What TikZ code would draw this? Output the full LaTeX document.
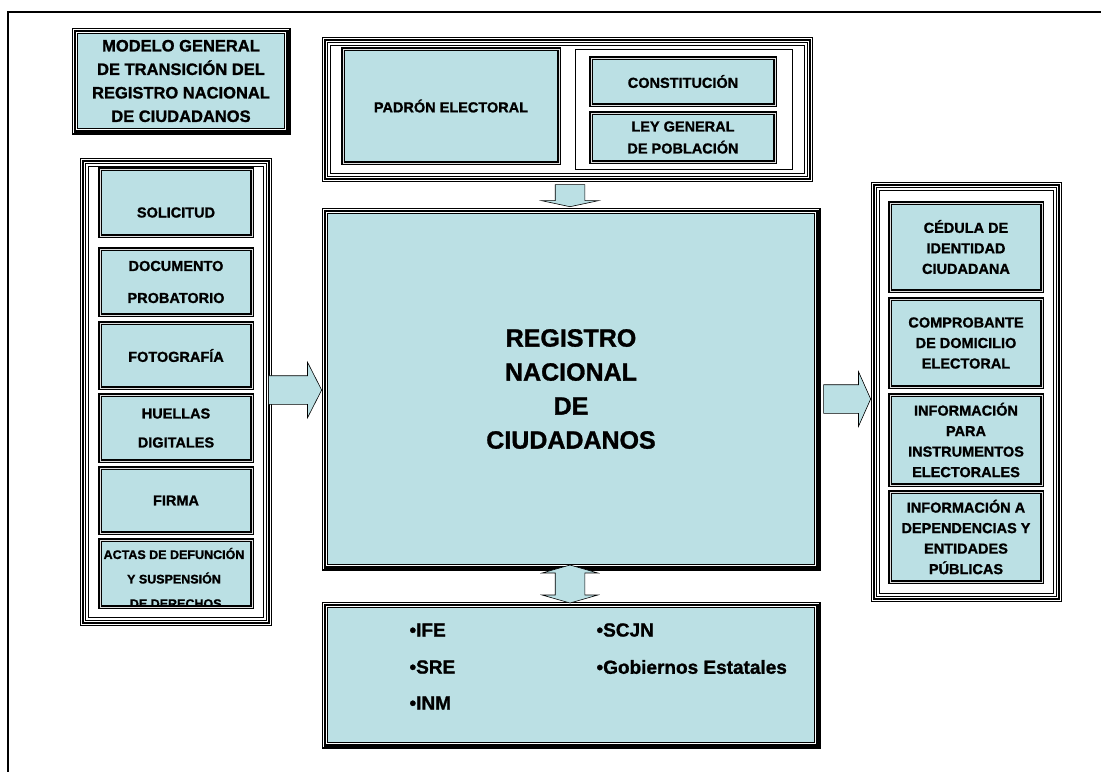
\documentclass[tikz,border=0pt]{standalone}
\usepackage{fontspec}
\setmainfont{Liberation Sans}[BoldFeatures={FakeBold=1.2}]
\usetikzlibrary{shapes.arrows}
\definecolor{regblue}{RGB}{187,224,228}

\begin{document}
\begin{tikzpicture}[x=1pt, y=-1pt,
	bluebox/.style={fill=regblue, inner sep=2pt, outer sep=0pt, align=center, font=\bfseries\fontsize{14.5}{20.5}\selectfont},
	itembox/.style={bluebox, draw=black, line width=1.1pt, double=white!75!gray, double distance=0.9pt},
	holder/.style={fill=white, draw, line width=0.6pt, outer sep=0pt},
	frameline/.style={line width=6.5pt, postaction={draw=white, line width=4.3pt}, postaction={draw, line width=2.5pt}},
	blockarrow/.style={fill=regblue, draw, line width=0.6pt},
	bullet/.style={anchor=west, font=\bfseries\fontsize{19}{22}\selectfont}]

	\newcommand{\drawFrame}[2]
	{
		\draw [frameline] ([shift={(-#2pt,#2pt)}]#1.north west) rectangle ([shift={(#2pt,-#2pt)}]#1.south east)
	}

	\useasboundingbox (0,0) rectangle (1101,772);
	\draw [line width=2pt] (1101,12) -- (8,12) -- (8,772);

	% titulo
	\node [bluebox, anchor=north west, minimum width=206pt, minimum height=94pt, font=\bfseries\fontsize{16.5}{23.5}\selectfont] (titulo) at (78,34) {MODELO GENERAL\\DE TRANSICIÓN DEL\\REGISTRO NACIONAL\\DE CIUDADANOS};
	\drawFrame{titulo}{3.25};

	% fuentes
	\begin{scope}
		\node [holder, anchor=north west, minimum width=474pt, minimum height=128pt] (fuentes) at (330.5,45.5) {};
		\drawFrame{fuentes}{5.5};
		\node [itembox, anchor=north west, minimum width=216pt, minimum height=114pt] (padron) at (343,49) {PADRÓN ELECTORAL};
		\node [holder, anchor=north west, minimum width=217pt, minimum height=120pt] (leyes) at (575,49) {};
		\node [itembox, anchor=north west, minimum width=184pt, minimum height=47pt] (constitucion) at (591,58) {CONSTITUCIÓN};
		\node [itembox, anchor=north west, minimum width=184pt, minimum height=49pt, font=\bfseries\fontsize{14.5}{22}\selectfont] (ley) at (591,113) {LEY GENERAL\\DE POBLACIÓN};
	\end{scope}

	% registro
	\node [bluebox, anchor=north west, minimum width=486pt, minimum height=350pt, font=\bfseries\fontsize{25}{34}\selectfont] (registro) at (328,214) {REGISTRO\\NACIONAL\\DE\\CIUDADANOS};
	\drawFrame{registro}{3.25};

	% entradas
	\begin{scope}
		\node [holder, anchor=north west, minimum width=175pt, minimum height=451pt] (entradas) at (88.5,166.5) {};
		\drawFrame{entradas}{5.5};
		\node [itembox, anchor=north west, minimum width=152pt, minimum height=67pt, text height=30pt, text depth=0pt] (solicitud) at (100,169) {SOLICITUD};
		\node [itembox, anchor=north west, minimum width=152pt, minimum height=66pt, font=\bfseries\fontsize{14.5}{32}\selectfont] (documento) at (100,249) {DOCUMENTO\\PROBATORIO};
		\node [itembox, anchor=north west, minimum width=152pt, minimum height=65pt] (foto) at (100,323) {FOTOGRAFÍA};
		\node [itembox, anchor=north west, minimum width=152pt, minimum height=66pt, font=\bfseries\fontsize{14.5}{29}\selectfont] (huellas) at (100,395) {HUELLAS\\DIGITALES};
		\node [itembox, anchor=north west, minimum width=152pt, minimum height=65pt] (firma) at (100,468) {FIRMA};
		\node [itembox, anchor=north west, minimum width=152pt, minimum height=67pt] (actas) at (100,540) {};
		\begin{scope}
			\clip ([shift={(1.6pt,-1.6pt)}]actas.north west) rectangle ([shift={(-1.6pt,1.6pt)}]actas.south east);
			\node [bluebox, fill=none, font=\bfseries\fontsize{12.5}{24.5}\selectfont] at (174,578) {ACTAS DE DEFUNCIÓN\\Y SUSPENSIÓN\\\ DE DERECHOS};
		\end{scope}
	\end{scope}

	% salidas
	\begin{scope}
		\node [holder, anchor=north west, minimum width=174pt, minimum height=403pt] (salidas) at (879.5,190.5) {};
		\drawFrame{salidas}{5.5};
		\node [itembox, anchor=north west, minimum width=152pt, minimum height=88pt] (cedula) at (890,203) {CÉDULA DE\\IDENTIDAD\\CIUDADANA};
		\node [itembox, anchor=north west, minimum width=152pt, minimum height=88pt] (comprobante) at (890,299) {COMPROBANTE\\DE DOMICILIO\\ELECTORAL};
		\node [itembox, anchor=north west, minimum width=152pt, minimum height=90pt] (instrumentos) at (890,395) {INFORMACIÓN\\PARA\\INSTRUMENTOS\\ELECTORALES};
		\node [itembox, anchor=north west, minimum width=152pt, minimum height=90pt] (dependencias) at (890,492) {INFORMACIÓN A\\DEPENDENCIAS Y\\ENTIDADES\\PÚBLICAS};
	\end{scope}

	% instituciones
	\node [bluebox, anchor=north west, minimum width=486pt, minimum height=134pt] (instituciones) at (328,608) {};
	\drawFrame{instituciones}{3.25};
	\node [bullet] (ife) at (406,630) {•IFE};
	\node [bullet] (sre) at (406,667) {•SRE};
	\node [bullet] (inm) at (406,703) {•INM};
	\node [bullet] (scjn) at (593,630) {•SCJN};
	\node [bullet] (gobiernos) at (593,667) {•Gobiernos Estatales};

	% flechas
	\node [blockarrow, single arrow, inner xsep=0pt, inner ysep=14pt, minimum height=53pt, single arrow head extend=13.5pt, single arrow tip angle=126, anchor=tip] (flechaEntrada) at (322,390) {};
	\node [blockarrow, single arrow, inner xsep=0pt, inner ysep=14pt, minimum height=47pt, single arrow head extend=13pt, single arrow tip angle=132, anchor=tip] (flechaSalida) at (871,399) {};
	\node [blockarrow, single arrow, shape border rotate=270, inner xsep=14.5pt, inner ysep=0pt, minimum height=22pt, single arrow head extend=13.5pt, single arrow tip angle=156, anchor=tip] (flechaFuentes) at (570,207) {};
	\node [blockarrow, double arrow, shape border rotate=90, inner xsep=14.5pt, inner ysep=0pt, minimum height=38pt, double arrow head extend=13pt, double arrow tip angle=148] (flechaInstituciones) at (570,584) {};
\end{tikzpicture}
\end{document}
